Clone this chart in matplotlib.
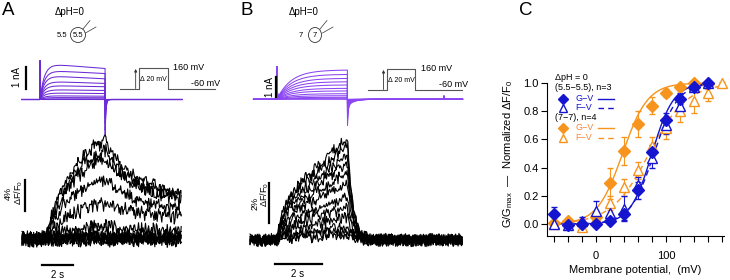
import numpy as np
import matplotlib
matplotlib.use("Agg")
import matplotlib.pyplot as plt
from matplotlib.patches import Ellipse

plt.rcParams['font.family'] = ['Liberation Sans', 'DejaVu Sans']
plt.rcParams['mathtext.fontset'] = 'custom'
plt.rcParams['mathtext.rm'] = 'Liberation Sans'
plt.rcParams['mathtext.it'] = 'Liberation Sans:italic'
plt.rcParams['mathtext.default'] = 'regular'

# ------------------------------------------------------------------ data
step_voltages = [-60, -40, -20, 0, 20, 40, 60, 80, 100, 120, 140, 160]

# Panel A (pH 5.5 / 5.5): current (nA) early peak and end-of-pulse level
A_I_peak = [0, 0, 0.03, 0.09, 0.17, 0.30, 0.45, 0.64, 0.83, 1.09, 1.33, 1.64]
A_I_end = [0, 0, 0.03, 0.08, 0.15, 0.27, 0.41, 0.58, 0.73, 0.94, 1.18, 1.41]
# Panel A fluorescence (% dF/F0): peak at pulse end and value at trace end
A_F_peak = [0, 0, 0, 0, 0.2, 0.8, 1.7, 4.7, 7.8, 10.5, 11.5, 12.8]
A_F_end = [0, 0, 0, 0, 0.1, 0.4, 1.0, 3.0, 4.0, 5.3, 5.6, 6.0]

# Panel B (pH 7 / 7)
B_I_end = [0, 0.05, 0.10, 0.18, 0.28, 0.42, 0.55, 0.72, 0.88, 1.05, 1.25, 1.47]
B_F_peak = [0.25, 0.4, 0.65, 1.15, 1.65, 2.15, 2.85, 3.35, 3.85, 4.25, 4.75, 5.1]

# trace noise texture (hand typed, dimensionless)
JITTER = [0.3, -0.8, 0.5, 0.9, -0.2, -1.0, 0.6, -0.4, 0.1, 0.8, -0.7, 0.2, -0.5,
          1.0, -0.9, 0.4, -0.1, 0.7, -0.6, 0.0, 0.9, -0.3, -0.8, 0.5, 0.2, -1.0,
          0.8, -0.4, 0.6, -0.7, 0.3, 0.1, -0.9, 0.7, -0.2, 0.4, -0.6, 1.0, -0.5,
          0.0, -0.8, 0.6, 0.3, -0.3, 0.9, -1.0, 0.2, 0.5, -0.7, 0.8, -0.1, -0.4,
          0.7, -0.9, 0.1, 0.6, -0.5, 0.4, -0.2, 0.9, -0.6]

# Voltage protocol (inset)
prot_t = [0.0, 0.2, 0.2, 0.5, 0.5, 1.0]
prot_v = [-60, -60, 160, 160, -60, -60]

# Panel C: normalized G-V and F-V
C_V = [-60, -40, -20, 0, 20, 40, 60, 80, 100, 120, 140, 160]
C_V_orF = [-60, -40, -20, 0, 20, 40, 60, 80, 100, 120, 140, 160, 180]
GV_55 = [0.07, -0.01, 0.0, 0.0, 0.02, 0.07, 0.24, 0.51, 0.74, 0.89, 0.97, 1.0]
GV_55_err = [0.05, 0.02, 0.01, 0.02, 0.02, 0.04, 0.06, 0.05, 0.05, 0.04, 0.02, 0.0]
FV_55 = [0.0, -0.01, 0.02, 0.09, 0.08, 0.11, 0.28, 0.47, 0.70, 0.84, 0.97, 1.0]
FV_55_err = [0.02, 0.02, 0.03, 0.075, 0.05, 0.09, 0.05, 0.07, 0.06, 0.05, 0.03, 0.0]
GV_7 = [0.01, 0.02, 0.0, 0.05, 0.29, 0.52, 0.71, 0.84, 0.93, 0.97, 1.0, 0.99]
GV_7_err = [0.01, 0.02, 0.02, 0.03, 0.11, 0.10, 0.09, 0.06, 0.03, 0.02, 0.01, 0.01]
FV_7 = [0.0, 0.02, -0.02, 0.04, 0.15, 0.26, 0.38, 0.55, 0.68, 0.80, 0.87, 0.93, 1.0]
FV_7_err = [0.02, 0.02, 0.03, 0.03, 0.05, 0.06, 0.06, 0.07, 0.08, 0.08, 0.08, 0.06, 0.01]
# Boltzmann fits: (V1/2 in mV, slope in mV)
fit_GV_55 = (80, 15.5)
fit_FV_55 = (83, 17)
fit_GV_7 = (38, 18)
fit_FV_7 = (76, 27)

C_xticks = [-60, -40, -20, 0, 20, 40, 60, 80, 100, 120, 140, 160, 180]
C_xtick_labels = ['', '', '', '0', '', '', '', '', '100', '', '', '', '']
C_yticks = [0.0, 0.2, 0.4, 0.6, 0.8, 1.0]
C_ytick_labels = ['0.0', '0.2', '0.4', '0.6', '0.8', '1.0']

# ------------------------------------------------------------------ figure
W, H = 730, 280
fig = plt.figure(figsize=(W / 100, H / 100), dpi=100)


def px_axes(l, t, r, b):
    ax = fig.add_axes([l / W, 1 - b / H, (r - l) / W, (b - t) / H])
    ax.set_facecolor('none')
    return ax


def noise(n, k, amp):
    J = np.asarray(JITTER)
    i = np.arange(n)
    a = J[(i * (7 + 2 * k) + 11 * k) % len(J)]
    b = J[(i * (19 + 4 * k) + 3 * (i // len(J)) + 5 * k) % len(J)]
    return amp * (0.65 * a + 0.45 * b)


PURPLE_A = '#6c2bd6'
PURPLE_B = '#8b45f2'

# ---------------- Panel A current
A_on, A_off, A_tend = 1.16, 5.35, 10.3
axAI = px_axes(22, 99.5 - 1.9 * 22, 182, 99.5 + 1.9 * 22)
axAI.set_xlim(0, A_tend)
axAI.set_ylim(-1.9, 1.9)
axAI.axis('off')
t = np.arange(0, A_tend, 0.004)
for k in range(len(step_voltages)):
    I = np.zeros_like(t)
    on = (t >= A_on) & (t < A_off)
    dt = t[on] - A_on
    lvl = A_I_peak[k] + (A_I_end[k] - A_I_peak[k]) * dt / (A_off - A_on)
    I[on] = (1 - np.exp(-dt / 0.28)) * lvl + 1.75 * np.exp(-dt / 0.012)
    off = t >= A_off
    d2 = t[off] - A_off
    I[off] = -1.23 * A_I_end[k] * np.exp(-d2 / 0.05)
    axAI.plot(t, I, color=PURPLE_A, lw=0.75, clip_on=False)
axAI.plot([0.26, 0.26], [0.5, 1.5], color='black', lw=1.6, clip_on=False)

# ---------------- Panel A fluorescence
axAF = px_axes(22, 239 - 14.5 * 7.68, 182, 239 + 3 * 7.68)
axAF.set_xlim(0, A_tend)
axAF.set_ylim(-3, 14.5)
axAF.axis('off')
tf = np.arange(0, A_tend, 0.05)
F_on = A_on + 0.35
for k in range(len(step_voltages)):
    F = np.zeros_like(tf)
    on = (tf >= F_on) & (tf < A_off)
    dt = tf[on] - F_on
    F[on] = A_F_peak[k] * (1 - np.exp(-dt / 1.8)) / (1 - np.exp(-(A_off - F_on) / 1.8))
    off = tf >= A_off
    d2 = tf[off] - A_off
    F[off] = A_F_peak[k] + (A_F_end[k] - A_F_peak[k]) * (1 - np.exp(-d2 / 2.0)) / (
        1 - np.exp(-(A_tend - A_off) / 2.0))
    F = F + noise(len(tf), k, 1.0)
    axAF.plot(tf, F, color='black', lw=0.8, clip_on=False)
axAF.plot([0.19, 0.19], [3.7, 7.7], color='black', lw=1.6, clip_on=False)
axAF.plot([1.29, 3.29], [-3.4, -3.4], color='black', lw=1.6, clip_on=False)

# ---------------- Panel B current
B_px_per_s = 23.5
B_x0 = 253.5
B_on, B_off, B_tend = 1.0, 4.0, 8.9
B_xlim = ((250 - B_x0) / B_px_per_s, (463 - B_x0) / B_px_per_s)
axBI = px_axes(250, 99.3 - 2.0 * 20, 463, 99.3 + 1.6 * 20)
axBI.set_xlim(*B_xlim)
axBI.set_ylim(-1.6, 2.0)
axBI.axis('off')
t = np.arange(0, B_tend, 0.004)
for k in range(len(step_voltages)):
    I = np.zeros_like(t)
    on = (t >= B_on) & (t < B_off)
    dt = t[on] - B_on
    I[on] = (1 - np.exp(-dt / 0.6)) * B_I_end[k] + 1.63 * np.exp(-dt / 0.012)
    off = t >= B_off
    d2 = t[off] - B_off
    I[off] = -(B_I_end[k] / 1.47) * (0.95 * np.exp(-d2 / 0.03) + 0.35 * np.exp(-d2 / 0.25))
    art = np.abs(t - 8.1) < 0.01
    I[art] += 0.15
    axBI.plot(t, I, color=PURPLE_B, lw=0.75, clip_on=False)
axBI.plot([0.96, 0.96], [0.1, 1.1], color='black', lw=1.6, clip_on=False)

# ---------------- Panel B fluorescence
axBF = px_axes(250, 240 - 5.5 * 20, 463, 240 + 1.7 * 20)
axBF.set_xlim(*B_xlim)
axBF.set_ylim(-1.7, 5.5)
axBF.axis('off')
tf = np.arange(B_xlim[0], B_tend, 0.035)
T = B_off - B_on
for k in range(len(step_voltages)):
    F = np.zeros_like(tf)
    on = (tf >= B_on) & (tf < B_off)
    dt = tf[on] - B_on
    F[on] = B_F_peak[k] * (0.35 * (1 - np.exp(-dt / 0.25)) + 0.65 * dt / T)
    off = tf >= B_off
    d2 = tf[off] - B_off
    F[off] = B_F_peak[k] * np.exp(-d2 / 0.22)
    F = F + noise(len(tf), k + 3, 0.3)
    axBF.plot(tf, F, color='black', lw=0.8, clip_on=False)
axBF.plot([0.66, 0.66], [0.85, 2.85], color='black', lw=1.6, clip_on=False)
axBF.plot([0.915, 2.915], [-1.2, -1.2], color='black', lw=1.6, clip_on=False)

# ---------------- protocol insets
for (l, r, base, top) in [(120, 215, 89, 68), (368, 462, 90, 69)]:
    pxmv = (base - top) / 220.0
    ax = px_axes(l, top - 20 * pxmv, r, base + 20 * pxmv)
    ax.set_xlim(0, 1)
    ax.set_ylim(-80, 180)
    ax.axis('off')
    ax.plot(prot_t, prot_v, color='#555555', lw=0.8, clip_on=False)
    ax.annotate('', xy=(0.165, 150), xytext=(0.165, -55),
                arrowprops=dict(arrowstyle='-|>', color='#333333', lw=0.6,
                                mutation_scale=4, shrinkA=0, shrinkB=0))
    ax.text(0.35, 35, 'Δ 20 mV', fontsize=5, ha='center', va='center')
    ax.text(0.56, 165, '160 mV', fontsize=6.5, ha='left', va='center')
    ax.text(0.75, -50, '-60 mV', fontsize=6.5, ha='left', va='bottom')

# ---------------- Panel C
axC = px_axes(547, 236 - 1.165 * 141, 724, 236)
axC.set_xlim(-70, 183)
axC.set_ylim(-0.085, 1.08)
for s in ['top', 'right']:
    axC.spines[s].set_visible(False)
axC.spines['left'].set_bounds(-0.085, 1.0)
for s in ['left', 'bottom']:
    axC.spines[s].set_linewidth(0.8)
axC.set_xticks(C_xticks)
axC.set_xticklabels(C_xtick_labels)
axC.set_yticks(C_yticks)
axC.set_yticklabels(C_ytick_labels)
axC.tick_params(direction='out', length=4, width=0.8, labelsize=8)
axC.tick_params(axis='x', pad=7)
axC.tick_params(axis='y', pad=2)
axC.set_xlabel('Membrane potential,  (mV)', fontsize=8, labelpad=3)
axC.set_ylabel('G/G$_{max}$  —  Normalized ΔF/F$_0$', fontsize=8, labelpad=6)

BLUE = '#1515cf'
ORANGE = '#f7941d'


def boltz(v, p):
    return 1.0 / (1.0 + np.exp((p[0] - v) / p[1]))


def series(V, Y, E, marker, color, filled, fit, ls):
    vv = np.linspace(min(V), max(V), 200)
    axC.plot(vv, boltz(vv, fit), color=color, lw=1.0, ls=ls, clip_on=False, zorder=2,
             dashes=(4, 3) if ls == '--' else (None, None))
    cont = axC.errorbar(V, Y, yerr=E, fmt=marker, ms=6.5 if marker == 'D' else 7,
                        color=color, mec=color, mfc=color if filled else 'white',
                        mew=1.0, ecolor=color, elinewidth=0.8, capsize=2.5,
                        capthick=0.8, zorder=3)
    for art in cont.get_children():
        art.set_clip_on(False)


series(C_V_orF, FV_7, FV_7_err, '^', ORANGE, False, fit_FV_7, '--')
series(C_V, GV_7, GV_7_err, 'D', ORANGE, True, fit_GV_7, '-')
series(C_V, FV_55, FV_55_err, '^', BLUE, False, fit_FV_55, '--')
series(C_V, GV_55, GV_55_err, 'D', BLUE, True, fit_GV_55, '-')

# ---------------- overlay (labels, schematic, legend)
ov = fig.add_axes([0, 0, 1, 1], zorder=10)
ov.set_xlim(0, W)
ov.set_ylim(H, 0)
ov.axis('off')

for x, lab in [(2, 'A'), (240, 'B'), (519, 'C')]:
    ov.text(x, 2, lab, fontsize=13.5, ha='left', va='top')

# cell schematics
for (tx, cx, inside, outside, ox) in [(70, 78, '5.5', '5.5', 62), (304, 315, '7', '7', 301)]:
    ov.text(tx, 12, 'ΔpH=0', fontsize=7, ha='center', va='center')
    ov.add_patch(Ellipse((cx, 35), 15 if inside == '5.5' else 13, 15, fill=False,
                         lw=0.6, ec='#333333'))
    ov.text(cx, 35.5, inside, fontsize=5.5, ha='center', va='center')
    ov.text(ox, 35.5, outside, fontsize=5.5, ha='center', va='center')
    ov.plot([cx + 5, cx + 12], [29, 20.5], color='#333333', lw=0.5)
    ov.plot([cx + 7.5, cx + 18], [33, 27], color='#333333', lw=0.5)

# scale-bar labels
ov.text(17, 77, '1 nA', fontsize=7, rotation=90, ha='center', va='center')
ov.text(270, 87, '1 nA', fontsize=7, rotation=90, ha='center', va='center')
ov.text(8.5, 193, '4%', fontsize=6.5, rotation=90, ha='center', va='center')
ov.text(18.5, 193, 'ΔF/F$_0$', fontsize=6.5, rotation=90, ha='center', va='center')
ov.text(57.5, 275, '2 s', fontsize=7, ha='center', va='center')
ov.text(255.5, 203, '2%', fontsize=6.5, rotation=90, ha='center', va='center')
ov.text(265, 195, 'ΔF/F$_0$', fontsize=6.5, rotation=90, ha='center', va='center')
ov.text(298, 274, '2 s', fontsize=7, ha='center', va='center')

# legend of panel C
LEG_FS = 6.5
ov.text(555, 78, 'ΔpH = 0', fontsize=LEG_FS, ha='left', va='center')
ov.text(555, 88, '(5.5−5.5), n=3', fontsize=LEG_FS, ha='left', va='center')
ov.text(555, 117.5, '(7−7), n=4', fontsize=LEG_FS, ha='left', va='center')
for y, mk, col, filled, ls, lab in [(98.5, 'D', BLUE, True, '-', 'G−V'),
                                     (108, '^', BLUE, False, '--', 'F−V'),
                                     (128, 'D', ORANGE, True, '-', 'G−V'),
                                     (137.5, '^', ORANGE, False, '--', 'F−V')]:
    ov.plot([563], [y], marker=mk, ms=5.5 if mk == 'D' else 6, color=col, mec=col,
            mfc=col if filled else 'white', mew=1.0)
    ov.text(575, y, lab, fontsize=LEG_FS, color=col if col == BLUE else '#f5853a',
            ha='left', va='center')
    ov.plot([598, 614], [y, y], color=col, lw=1.0, ls=ls,
            dashes=(4, 3) if ls == '--' else (None, None))

fig.savefig('out.png', dpi=100)
